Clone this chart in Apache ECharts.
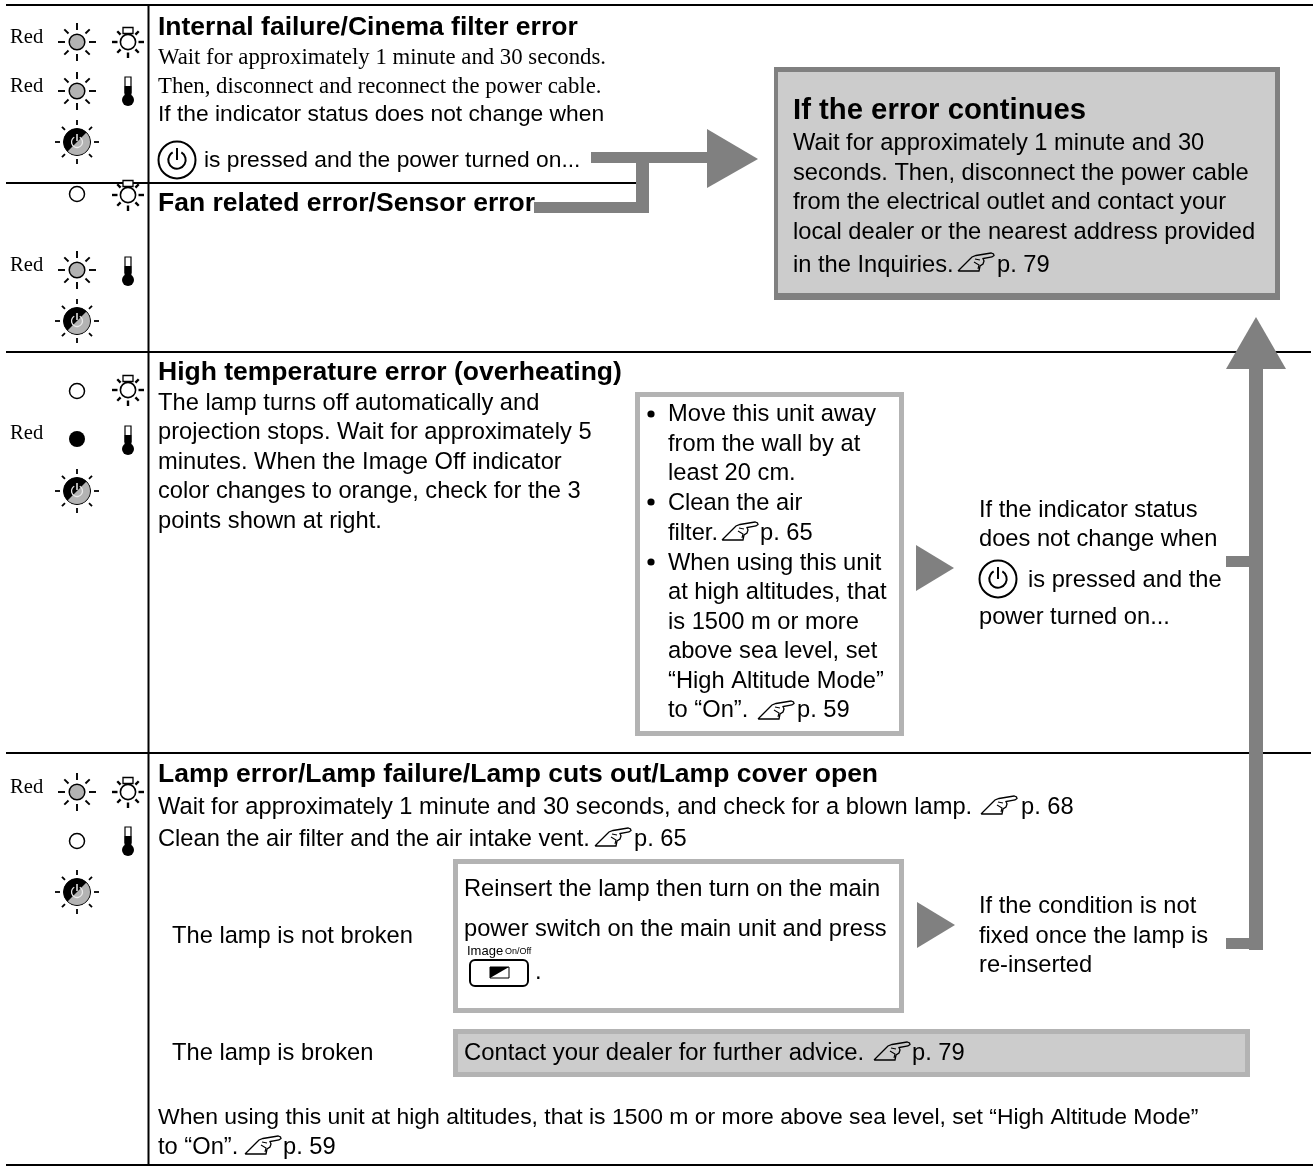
<!DOCTYPE html>
<html><head><meta charset="utf-8"><style>html,body{margin:0;padding:0;background:#fff}#c{width:1313px;height:1169px}</style>
<script src="https://cdn.jsdelivr.net/npm/echarts@6/dist/echarts.min.js"></script></head><body><div id="c"></div>
<script>
const titles=["Internal failure/Cinema filter error","Fan related error/Sensor error","High temperature error (overheating)","Lamp error/Lamp failure/Lamp cuts out/Lamp cover open"];
const row1Serif=["Wait for approximately 1 minute and 30 seconds.","Then, disconnect and reconnect the power cable."];
const row1Sans=["If the indicator status does not change when","is pressed and the power turned on..."];
const errorTitle="If the error continues";
const errorLines=["Wait for approximately 1 minute and 30","seconds. Then, disconnect the power cable","from the electrical outlet and contact your","local dealer or the nearest address provided","in the Inquiries.","p. 79"];
const row3Lines=["The lamp turns off automatically and","projection stops. Wait for approximately 5","minutes. When the Image Off indicator","color changes to orange, check for the 3","points shown at right."];
const checkLines=["Move this unit away","from the wall by at","least 20 cm.","Clean the air","filter.","p. 65","When using this unit","at high altitudes, that","is 1500 m or more","above sea level, set","“High Altitude Mode”","to “On”.","p. 59"];
const midLines=["If the indicator status","does not change when","is pressed and the","power turned on..."];
const row4Lines=["Wait for approximately 1 minute and 30 seconds, and check for a blown lamp.","p. 68","Clean the air filter and the air intake vent.","p. 65"];
const brokenLabels=["The lamp is not broken","The lamp is broken"];
const reinsert=["Reinsert the lamp then turn on the main","power switch on the main unit and press","."];
const condLines=["If the condition is not","fixed once the lamp is","re-inserted"];
const contact=["Contact your dealer for further advice.","p. 79"];
const bottomLines=["When using this unit at high altitudes, that is 1500 m or more above sea level, set “High Altitude Mode”","to “On”.","p. 59"];
const redLabel="Red";
const keyLabels=["Image","On/Off"];

const SANS='"Liberation Sans",Arial,sans-serif',SERIF='"Liberation Serif",serif';
const FS=23.7,G='#808080',LG='#b3b3b3',F='#cccccc';
const els=[];
function T(s,x,y,o={}){els.push({type:'text',z:o.z||10,style:{text:s,x,y:y+1,fill:'#000',font:`${o.w||'normal'} ${o.s||FS}px ${o.f||SANS}`,textAlign:o.a||'left',textVerticalAlign:'middle',verticalAlign:'middle'}})}
function R(x,y,w,h,fill,o={}){els.push({type:'rect',z:o.z||2,shape:{x,y,width:w,height:h,r:o.r||0},style:{fill,stroke:o.stroke||null,lineWidth:o.lw||0}})}
function L(x1,y1,x2,y2,lw,o={}){els.push({type:'line',z:o.z||3,shape:{x1,y1,x2,y2},style:{stroke:o.c||'#000',lineWidth:lw}})}
function C(cx,cy,r,fill,stroke,lw){els.push({type:'circle',z:4,shape:{cx,cy,r},style:{fill,stroke:stroke||null,lineWidth:lw||0}})}
function P(pts,fill,z){els.push({type:'polygon',z:z||5,shape:{points:pts},style:{fill}})}
function PL(x,y,pts,lw){els.push({type:'polyline',z:6,shape:{points:pts.map(p=>[p[0]+x,p[1]+y])},style:{fill:null,stroke:'#000',lineWidth:lw||1.3}})}
function hand(x,y){const top=y-9;
 PL(x,top,[[0,18],[11,7],[14,4],[18,2.5],[24,1.5],[33,0],[35.5,1],[36,2.5],[34,4],[25,5.5],[26,8],[25,11],[22,13],[21,18],[0,18]]);
 PL(x,top,[[17,6],[22,7]],1.1);PL(x,top,[[16,9],[21,12],[20,16]],1.1)}
function rays(cx,cy,r1,r2,lw,skipTop){for(let i=0;i<8;i++){if(skipTop&&i==6)continue;const a=i*Math.PI/4,k=i%2?0.85:1;L(cx+r1*Math.cos(a),cy+r1*Math.sin(a),cx+(r1+(r2-r1)*k)*Math.cos(a),cy+(r1+(r2-r1)*k)*Math.sin(a),lw,{z:4})}}
function sun(cx,cy){rays(cx,cy,12,19,1.9);C(cx,cy,7.8,LG,'#000',1.5)}
function lamp(cx,cy){rays(cx,cy,10.5,16,2.4,true);C(cx,cy,7.6,'#fff','#000',1.6);els.push({type:'rect',z:4,shape:{x:cx-5,y:cy-14.5,width:10,height:6},style:{fill:'#fff',stroke:'#000',lineWidth:1.3}})}
function thermo(cx,top){R(cx-3,top,6,16,'#fff',{stroke:'#000',lw:1.2,z:4});R(cx-3.4,top+9,6.8,14,'#000',{z:4});C(cx,top+23,6,'#000')}
function off(cx,cy){C(cx,cy,7.5,'#fff','#000',1.5)}
function dot(cx,cy){C(cx,cy,8,'#000')}
function power(cx,cy){rays(cx,cy,17,22,1.8);C(cx,cy,13.5,'#000','#000',1);
 els.push({type:'sector',z:4,shape:{cx,cy,r:13,r0:0,startAngle:-Math.PI/4,endAngle:3*Math.PI/4,clockwise:true},style:{fill:LG}});
 els.push({type:'arc',z:5,shape:{cx,cy,r:5.5,startAngle:-Math.PI/3,endAngle:-2*Math.PI/3+2*Math.PI},style:{fill:'none',stroke:'#e8e8e8',lineWidth:1.3}});
 L(cx,cy-8,cx,cy-1,1.4,{c:'#fff',z:5})}
function powerKey(cx,cy,r){C(cx,cy,r,'#fff','#000',2);els.push({type:'arc',z:5,shape:{cx,cy,r:r*0.47,startAngle:-Math.PI/3,endAngle:-2*Math.PI/3+2*Math.PI},style:{fill:'none',stroke:'#000',lineWidth:2}});L(cx,cy-r*0.65,cx,cy,2,{z:5})}
function red(y){T(redLabel,10,y,{f:SERIF,s:20.6})}

// rules
L(6,5,1313,5,2);L(6,183,636,183,2);L(6,352,1311,352,2);L(6,753,1311,753,2);L(6,1165,1313,1165,2);L(148.5,4,148.5,1166,2);

// indicators
red(37);sun(77,42);lamp(128,42);red(86);sun(77,91);thermo(128,77);power(77,142);
off(77,194);lamp(128,195);red(265);sun(77,270);thermo(128,257);power(77,321);
off(77,391);lamp(128,390);red(433);dot(77,439);thermo(128,426);power(77,491);
red(787);sun(77,792);lamp(128,792);off(77,841);thermo(128,827);power(77,892);

const TS=26.5;
// row 1
T(titles[0],158,27,{w:'bold',s:TS});T(row1Serif[0],158,57,{f:SERIF,s:22.75});T(row1Serif[1],158,86,{f:SERIF,s:22.75});
T(row1Sans[0],158,114,{s:22.8});powerKey(177,160,18.5);T(row1Sans[1],204,160,{s:22.8});
T(titles[1],158,203,{w:'bold',s:TS});

// top right box
R(774,67,506,233,G);R(778,72,497,221,F,{z:3});
T(errorTitle,793,110,{w:'bold',s:29.3});
errorLines.slice(0,4).forEach((s,i)=>T(s,793,[142,172,201,231][i],{}));T(errorLines[4],793,264);hand(958,262);T(errorLines[5],997,264);

// row 3
T(titles[2],158,372,{w:'bold',s:TS});
row3Lines.forEach((s,i)=>T(s,158,[402,431,461,490,520][i]));

R(635,392,269,344,LG);R(640,397,259,334,'#fff',{z:3});
const ys=[413,443,472,502,532,532,562,591,621,650,680,709,709];
C(651,414,3.6,'#000');C(651,502,3.6,'#000');C(651,562,3.6,'#000');
checkLines.forEach((s,i)=>{if(i==5)return T(s,760,532);if(i==12)return T(s,797,709);T(s,668,ys[i])});
hand(722,531);hand(758,710);

P([[916,545],[954,568],[916,591]],G);
midLines.forEach((s,i)=>T(s,i==2?1028:979,[509,538,579,616][i]));powerKey(998,579,18.5);

// arrows
R(591,152,116,11,G,{z:5});P([[707,129],[758,159],[707,188]],G);
R(636,163,13,50,G,{z:5});R(534,202,115,11,G,{z:5});
R(1249,369,14,581,G,{z:5});P([[1256,317],[1286,369],[1226,369]],G);
R(1226,556,23,11,G,{z:5});R(1226,938,23,11,G,{z:5});

// row 4
T(titles[3],158,774,{w:'bold',s:TS});
T(row4Lines[0],158,806);hand(981,805);T(row4Lines[1],1021,806);
T(row4Lines[2],158,838);hand(595,837);T(row4Lines[3],634,838);
T(brokenLabels[0],172,935);T(brokenLabels[1],172,1052);

R(453,859,451,154,LG);R(458,864,441,144,'#fff',{z:3});
T(reinsert[0],464,888);T(reinsert[1],464,928);
T(keyLabels[0],467,950,{s:13});T(keyLabels[1],505,951,{s:9});
R(470,960,58,26,'#fff',{stroke:'#000',lw:2,r:5,z:4});
R(490,967,19,11,'#fff',{stroke:'#000',lw:1,z:5});P([[490,967],[509,967],[490,978]],'#000',6);
T(reinsert[2],535,971);

P([[917,902],[955,925],[917,948]],G);
condLines.forEach((s,i)=>T(s,979,[905,935,964][i]));

R(453,1029,797,48,LG);R(458,1034,787,38,F,{z:3});
T(contact[0],464,1052,{s:23.85});hand(874,1051);T(contact[1],912,1052);

T(bottomLines[0],158,1117,{s:22.95});T(bottomLines[1],158,1146);hand(245,1145);T(bottomLines[2],283,1146);

const chart=echarts.init(document.getElementById('c'),null,{renderer:'canvas'});
chart.setOption({backgroundColor:'#fff',animation:false,graphic:{elements:els}});
</script></body></html>
